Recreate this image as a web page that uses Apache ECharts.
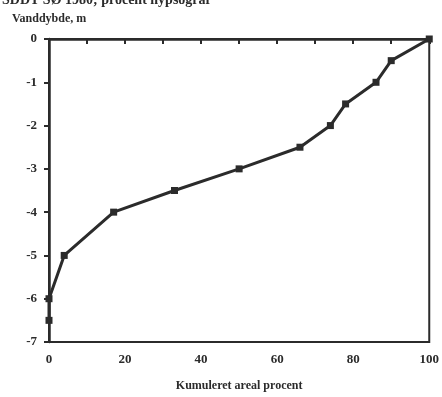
<!DOCTYPE html>
<html>
<head>
<meta charset="utf-8">
<script src="https://cdn.jsdelivr.net/npm/echarts@6/dist/echarts.min.js"></script>
<style>
  html, body { margin: 0; padding: 0; background: #fff; }
  #chart { width: 442px; height: 397px; }
</style>
</head>
<body>
<div id="chart"></div>
<script>
// kumuleret areal (%) mod vanddybde (m)
const arealPct = [0, 0, 4, 17, 33, 50, 66, 74, 78, 86, 90, 100];
const dybde = [-6.5, -6, -5, -4, -3.5, -3, -2.5, -2, -1.5, -1, -0.5, 0];
const xTicks = [0, 20, 40, 60, 80, 100];
const yTicks = [0, -1, -2, -3, -4, -5, -6, -7];

const FONT = '"Liberation Serif", "DejaVu Serif", serif';
const INK = '#2b2b2b';

const chart = echarts.init(document.getElementById('chart'));
chart.setOption({
  backgroundColor: '#fff',
  animation: false,
  graphic: [
    {
      type: 'text', left: 2, top: -7,
      style: { text: 'SDDT SØ 1980; procent hypsograf', font: 'bold 14px ' + FONT, fill: INK }
    },
    {
      type: 'text', left: 12, top: 13,
      style: { text: 'Vanddybde, m', font: 'bold 12px ' + FONT, fill: INK }
    }
  ],
  grid: { left: 49, right: 11, top: 39, bottom: 51, show: true, borderColor: INK, borderWidth: 2 },
  xAxis: {
    type: 'value', min: 0, max: 100, interval: 10,
    name: 'Kumuleret areal procent', nameLocation: 'middle', nameGap: 38,
    nameTextStyle: { fontFamily: FONT, fontWeight: 'bold', fontSize: 12, color: INK },
    axisLine: { show: true, lineStyle: { color: INK, width: 2.5 } },
    axisTick: { show: true, length: 5, lineStyle: { color: INK, width: 2 } },
    axisLabel: {
      fontFamily: FONT, fontWeight: 'bold', fontSize: 13, color: INK, margin: 11,
      formatter: v => xTicks.includes(v) ? String(v) : ''
    },
    splitLine: { show: false }
  },
  yAxis: {
    type: 'value', min: -7, max: 0, interval: 1,
    axisLine: { show: true, lineStyle: { color: INK, width: 2.5 } },
    axisTick: { show: true, length: 5, lineStyle: { color: INK, width: 2 } },
    axisLabel: {
      fontFamily: FONT, fontWeight: 'bold', fontSize: 13, color: INK, margin: 12,
      formatter: v => yTicks.includes(v) ? String(v) : ''
    },
    splitLine: { show: false }
  },
  series: [{
    type: 'line',
    data: arealPct.map((x, i) => [x, dybde[i]]),
    symbol: 'rect', symbolSize: 7,
    lineStyle: { color: INK, width: 3 },
    itemStyle: { color: INK },
    clip: false
  }]
});
</script>
</body>
</html>
